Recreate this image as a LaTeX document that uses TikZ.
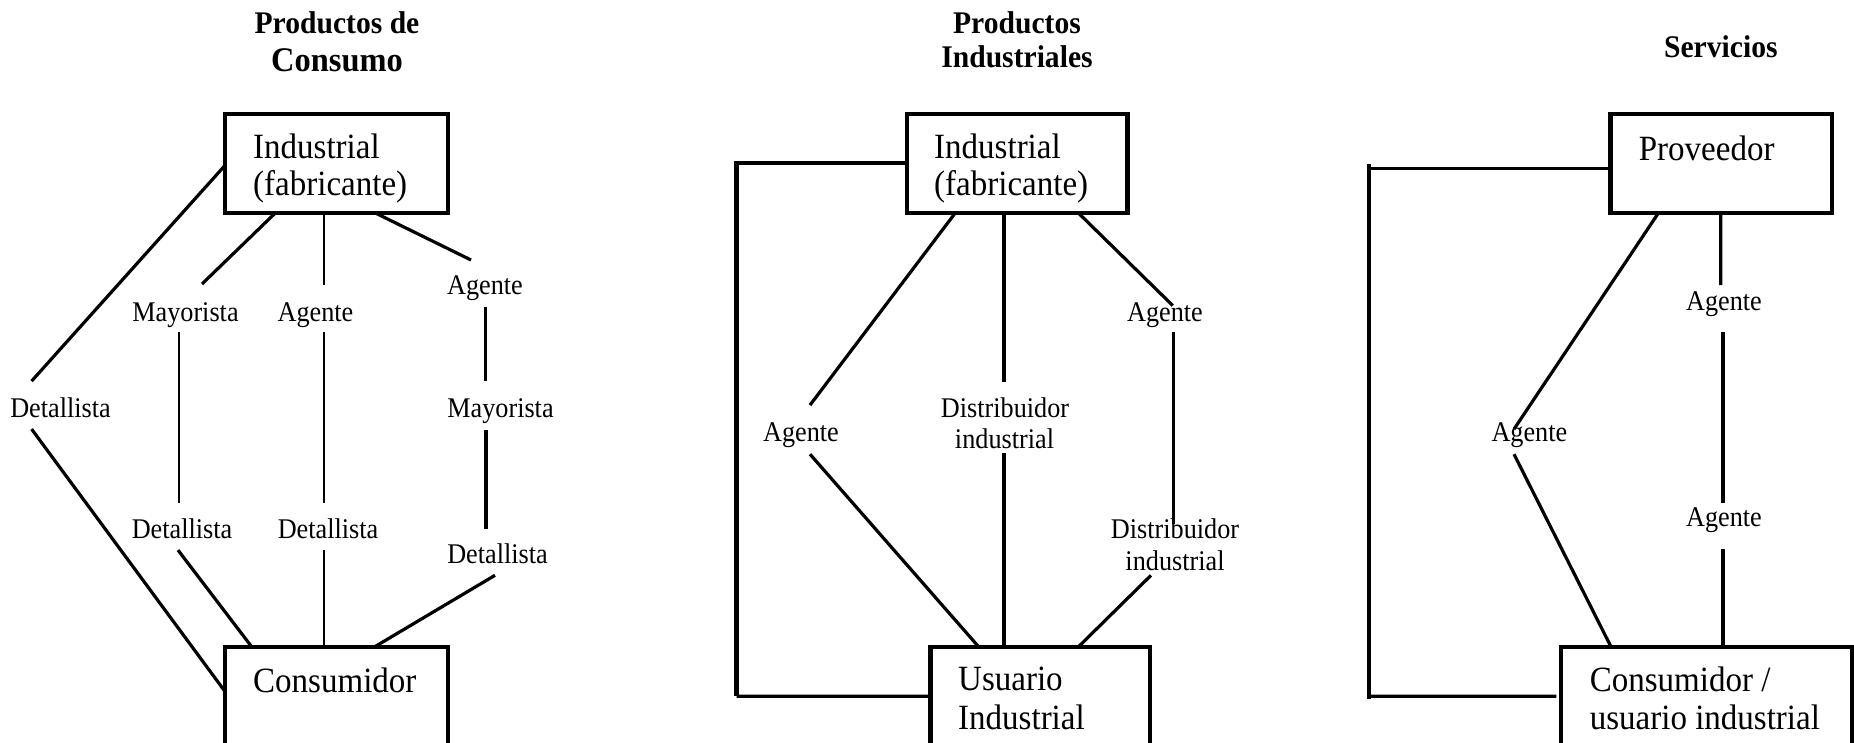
\documentclass[tikz,border=0pt]{standalone}
\usepackage{fontspec}
\setmainfont{Liberation Serif}
\newfontfamily\boxfont[FakeStretch=0.93]{Liberation Serif}
\newfontfamily\lblfont[FakeStretch=0.92]{Liberation Serif}
\newfontfamily\ttlfont[FakeStretch=0.94]{Liberation Serif}
\usetikzlibrary{calc}
\begin{document}
\begin{tikzpicture}[x=1pt,y=-1pt,
  box/.style={draw, line width=4.4pt, rectangle, inner sep=0pt, outer sep=0pt},
  boxtxt/.style={anchor=base west, inner sep=0pt, font=\boxfont\fontsize{35.5}{38}\selectfont},
  lbl/.style={anchor=base, inner sep=0pt, font=\lblfont\fontsize{28.5}{30}\selectfont},
  ttl/.style={anchor=base, inner sep=0pt, font=\ttlfont\fontsize{31.5}{33}\selectfont\bfseries},
  ttlbig/.style={ttl, font=\ttlfont\fontsize{34.5}{36}\selectfont\bfseries},
  thin/.style={line width=2.4pt},
  med/.style={line width=3.2pt},
  heavy/.style={line width=4.5pt}]
\fill[white] (0,0) rectangle (1854,743);
\useasboundingbox (0,0) rectangle (1854,743);

% ---------- Productos de Consumo ----------
\node[ttl] (t1a) at (337,33.2) {Productos de};
\node[ttlbig] (t1b) at (337,71.1) {Consumo};
\node[box, minimum width=223pt, minimum height=99.4pt] (p1top) at (336.5,163.6) {};
\node[boxtxt] (p1topa) at (253,158.2) {Industrial};
\node[boxtxt] (p1topb) at (253,196) {(fabricante)};
\node[box, minimum width=223pt, minimum height=132.8pt] (p1bot) at (336.5,713.6) {};
\node[boxtxt] (p1bota) at (253,692.7) {Consumidor};

\node[lbl] (p1det) at (60.5,417) {Detallista};
\node[lbl] (p1may) at (185.5,321.2) {Mayorista};
\node[lbl] (p1age) at (315.5,321.2) {Agente};
\node[lbl] (p1ager) at (485,294.8) {Agente};
\node[lbl] (p1mayr) at (500.5,417) {Mayorista};
\node[lbl] (p1deta) at (182,538.1) {Detallista};
\node[lbl] (p1detb) at (328,538.1) {Detallista};
\node[lbl] (p1detr) at (497.5,563.9) {Detallista};

\coordinate (c1a) at (31.6,381.1);
\coordinate (c1b) at (31.6,429.1);
\coordinate (c1c) at (202,284);
\coordinate (c1d) at (179,332);
\coordinate (c1e) at (179,503.4);
\coordinate (c1f) at (178,550.1);
\coordinate (c1g) at (324,285.2);
\coordinate (c1h) at (324,332);
\coordinate (c1i) at (324,503.4);
\coordinate (c1j) at (324,550.1);
\coordinate (c1k) at (471,260);
\coordinate (c1l) at (485.5,306.8);
\coordinate (c1m) at (485.5,381.1);
\coordinate (c1n) at (486,430.3);
\coordinate (c1o) at (486,528.5);
\coordinate (c1p) at (495,575.3);

\draw[med] ($(p1top.north west)+(0,51.5)$) -- (c1a);
\draw[med] (c1b) -- ($(p1bot.north west)+(0,44.3)$);
\draw[med] ($(p1top.south west)+(50,0)$) -- (c1c);
\draw[thin] (c1d) -- (c1e);
\draw[med] (c1f) -- ($(p1bot.north west)+(27,0)$);
\draw[thin] ($(p1top.south west)+(99,0)$) -- (c1g);
\draw[thin] (c1h) -- (c1i);
\draw[thin] (c1j) -- ($(p1bot.north west)+(99,0)$);
\draw[med] ($(p1top.south west)+(151,0)$) -- (c1k);
\draw[thin] (c1l) -- (c1m);
\draw[heavy] (c1n) -- (c1o);
\draw[med] (c1p) -- ($(p1bot.north west)+(149,0)$);

% ---------- Productos Industriales ----------
\node[ttl] (t2a) at (1017,33.2) {Productos};
\node[ttl] (t2b) at (1017,67.7) {Industriales};
\node[box, minimum width=220.6pt, minimum height=99.4pt] (p2top) at (1017,163.6) {};
\node[boxtxt] (p2topa) at (934,158.2) {Industrial};
\node[boxtxt] (p2topb) at (934,196) {(fabricante)};
\node[box, minimum width=219.6pt, minimum height=132.8pt] (p2bot) at (1040.2,713.6) {};
\node[boxtxt] (p2bota) at (958,690.9) {Usuario};
\node[boxtxt] (p2botb) at (958,729.9) {Industrial};

\node[lbl] (p2age) at (801,441.6) {Agente};
\node[lbl] (p2dis) at (1005,417) {Distribuidor};
\node[lbl] (p2disb) at (1004.5,448.2) {industrial};
\node[lbl] (p2ager) at (1165,321.2) {Agente};
\node[lbl] (p2disr) at (1175,538.8) {Distribuidor};
\node[lbl] (p2disrb) at (1175,570.1) {industrial};

\coordinate (b2a) at (736.6,163);
\coordinate (b2at) at (736.6,160.6);
\coordinate (b2b) at (736.6,696.3);
\coordinate (c2a) at (810,405.1);
\coordinate (c2b) at (810,454.2);
\coordinate (c2c) at (1004,382.3);
\coordinate (c2d) at (1004,453);
\coordinate (c2e) at (1172.8,305.6);
\coordinate (c2f) at (1173.6,332);
\coordinate (c2g) at (1173.6,523.7);
\coordinate (c2h) at (1151,575.3);

\draw[med] ($(p2top.north west)+(0,49.1)$) -- (b2a);
\draw[heavy] (b2at) -- (b2b);
\draw[med] (b2b) -- ($(p2bot.north west)+(0,49.1)$);
\draw[med] ($(p2top.south west)+(48.3,0)$) -- (c2a);
\draw[med] (c2b) -- ($(p2bot.north west)+(48.6,0)$);
\draw[heavy] ($(p2top.south west)+(97.3,0)$) -- (c2c);
\draw[heavy] (c2d) -- ($(p2bot.north west)+(73.6,0)$);
\draw[med] ($(p2top.south west)+(172,0)$) -- (c2e);
\draw[med] (c2f) -- (c2g);
\draw[med] (c2h) -- ($(p2bot.north west)+(147.6,0)$);

% ---------- Servicios ----------
\node[ttl] (t3a) at (1720.8,57.5) {Servicios};
\node[box, minimum width=221.6pt, minimum height=99.4pt] (p3top) at (1721.2,163.6) {};
\node[boxtxt] (p3topa) at (1638.6,160.1) {Proveedor};
\node[box, minimum width=291pt, minimum height=132.8pt] (p3bot) at (1706.5,713.6) {};
\node[boxtxt] (p3bota) at (1589.6,691.5) {Consumidor /};
\node[boxtxt] (p3botb) at (1589.6,729.9) {usuario industrial};

\node[lbl] (p3age) at (1529.4,441.6) {Agente};
\node[lbl] (p3agea) at (1724,310.4) {Agente};
\node[lbl] (p3ageb) at (1724,526.1) {Agente};

\coordinate (b3a) at (1369.2,168.8);
\coordinate (b3at) at (1369.2,164.5);
\coordinate (b3b) at (1369.2,698.7);
\coordinate (b3c) at (1369.2,696.3);
\coordinate (c3a) at (1514,429.1);
\coordinate (c3b) at (1514,454.2);
\coordinate (c3c) at (1720.8,285.2);
\coordinate (c3d) at (1722.8,332);
\coordinate (c3e) at (1722.8,503.4);
\coordinate (c3f) at (1722.8,549);

\draw[med] ($(p3top.north west)+(0,54.9)$) -- (b3a);
\draw[heavy] (b3at) -- (b3b);
\draw[med] (b3c) -- ($(p3bot.north west)+(-4.6,49.1)$);
\draw[med] ($(p3top.south west)+(47.8,0)$) -- (c3a);
\draw[med] (c3b) -- ($(p3bot.north west)+(50.2,0)$);
\draw[med] ($(p3top.south west)+(110.4,0)$) -- (c3c);
\draw[heavy] (c3d) -- (c3e);
\draw[heavy] (c3f) -- ($(p3bot.north west)+(161.8,0)$);
\end{tikzpicture}
\end{document}
